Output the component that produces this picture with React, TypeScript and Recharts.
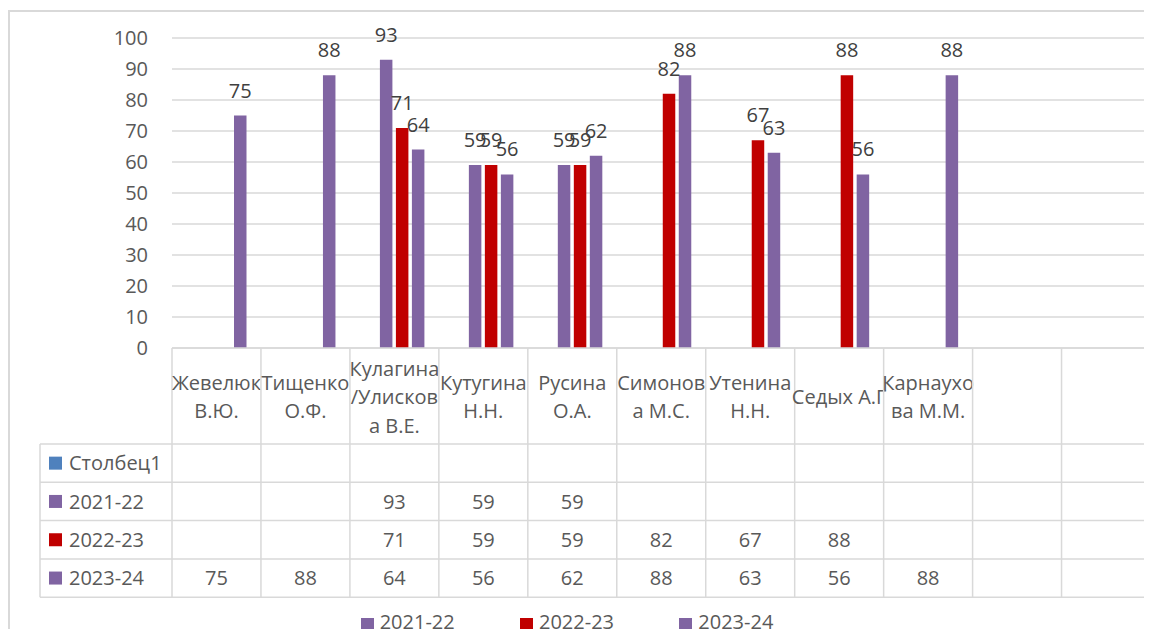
import React from "react";
import {
  BarChart,
  Bar,
  XAxis,
  YAxis,
  CartesianGrid,
  LabelList,
} from "recharts";

// categories as shown in the table header (\n = wrap in the cell)
const categories = [
  "Жевелюк\nВ.Ю.",
  "Тищенко\nО.Ф.",
  "Кулагина\n/Улисков\nа В.Е.",
  "Кутугина\nН.Н.",
  "Русина\nО.А.",
  "Симонов\nа М.С.",
  "Утенина\nН.Н.",
  "Седых А.Г",
  "Карнаухо\nва М.М.",
  "",
  "",
];

const col1: (number | null)[] = [null, null, null, null, null, null, null, null, null, null, null];
const y2122: (number | null)[] = [null, null, 93, 59, 59, null, null, null, null, null, null];
const y2223: (number | null)[] = [null, null, 71, 59, 59, 82, 67, 88, null, null, null];
const y2324: (number | null)[] = [75, 88, 64, 56, 62, 88, 63, 56, 88, null, null];

const yTicks = [0, 10, 20, 30, 40, 50, 60, 70, 80, 90, 100];

const series = [
  { key: "c1", name: "Столбец1", color: "#4F81BD", values: col1 },
  { key: "y2122", name: "2021-22", color: "#8064A2", values: y2122 },
  { key: "y2223", name: "2022-23", color: "#C00000", values: y2223 },
  { key: "y2324", name: "2023-24", color: "#8064A2", values: y2324 },
];

const data = categories.map((name, i) => ({
  name,
  c1: col1[i],
  y2122: y2122[i],
  y2223: y2223[i],
  y2324: y2324[i],
}));

const FONT = "'Open Sans', 'Noto Sans', sans-serif";
const TEXT = "#595959";
const LINE = "#D9D9D9";

const CHART_W = 1170;
const CHART_H = 640;
const PLOT_LEFT = 164;
const PLOT_RIGHT = 1142.5;
const PLOT_TOP = 30;
const PLOT_BOTTOM = 340;
const BAND = (PLOT_RIGHT - PLOT_LEFT) / categories.length;
const HEADER_BOTTOM = 436;
const ROW_H = 38.3;
const TABLE_LEFT = 32;
const TABLE_BOTTOM = HEADER_BOTTOM + ROW_H * series.length;

const YTick = (props: any) => {
  const { y, payload } = props;
  return (
    <text
      x={PLOT_LEFT - 24}
      y={y}
      dy="0.36em"
      textAnchor="end"
      fontSize={20}
      fill={TEXT}
      fontFamily={FONT}
    >
      {payload.value}
    </text>
  );
};

const TableTick = (props: any) => {
  const { x, index, payload } = props;
  const left = x - BAND / 2;
  const lines = String(payload.value).split("\n").filter((s) => s.length > 0);
  const midY = (PLOT_BOTTOM + HEADER_BOTTOM) / 2 + 1;
  const lh = 28.5;
  const firstY = midY - ((lines.length - 1) * lh) / 2;
  const isLast = index === categories.length - 1;

  return (
    <g>
      {index === 0 && (
        <g>
          {series.map((s, r) => (
            <line
              key={"h" + r}
              x1={TABLE_LEFT}
              x2={PLOT_RIGHT}
              y1={HEADER_BOTTOM + ROW_H * r}
              y2={HEADER_BOTTOM + ROW_H * r}
              stroke={LINE}
              strokeWidth={1.5}
            />
          ))}
          <line
            x1={TABLE_LEFT}
            x2={PLOT_RIGHT}
            y1={TABLE_BOTTOM}
            y2={TABLE_BOTTOM}
            stroke={LINE}
            strokeWidth={1.5}
          />
          <line
            x1={TABLE_LEFT}
            x2={TABLE_LEFT}
            y1={HEADER_BOTTOM}
            y2={TABLE_BOTTOM}
            stroke={LINE}
            strokeWidth={1.5}
          />
          {series.map((s, r) => {
            const cy = HEADER_BOTTOM + ROW_H * r + ROW_H / 2;
            return (
              <g key={"n" + r}>
                <rect x={TABLE_LEFT + 9} y={cy - 6.5} width={13} height={13} fill={s.color} />
                <text
                  x={TABLE_LEFT + 29}
                  y={cy}
                  dy="0.36em"
                  fontSize={20}
                  fill={TEXT}
                  fontFamily={FONT}
                >
                  {s.name}
                </text>
              </g>
            );
          })}
        </g>
      )}
      <line x1={left} x2={left} y1={PLOT_BOTTOM} y2={TABLE_BOTTOM} stroke={LINE} strokeWidth={1.5} />
      {isLast && (
        <line
          x1={left + BAND}
          x2={left + BAND}
          y1={PLOT_BOTTOM}
          y2={TABLE_BOTTOM}
          stroke={LINE}
          strokeWidth={1.5}
        />
      )}
      {lines.map((ln, k) => (
        <text
          key={"l" + k}
          x={x}
          y={firstY + k * lh}
          dy="0.36em"
          textAnchor="middle"
          fontSize={20}
          fill={TEXT}
          fontFamily={FONT}
        >
          {ln}
        </text>
      ))}
      {series.map((s, r) => {
        const v = s.values[index];
        if (v == null) return null;
        return (
          <text
            key={"v" + r}
            x={x}
            y={HEADER_BOTTOM + ROW_H * r + ROW_H / 2}
            dy="0.36em"
            textAnchor="middle"
            fontSize={20}
            fill={TEXT}
            fontFamily={FONT}
          >
            {v}
          </text>
        );
      })}
    </g>
  );
};

const labelStyle = { fontSize: 20, fill: "#404040", fontFamily: FONT };

export default function App() {
  const legendItems = series.slice(1);
  return (
    <div style={{ position: "relative", width: 1144, height: 621, overflow: "hidden", fontFamily: FONT }}>
      <style>{`html,body{overflow:hidden}`}</style>
      <div
        style={{
          position: "absolute",
          left: 0,
          top: 2,
          width: 1300,
          height: 700,
          borderLeft: `2px solid ${LINE}`,
          borderTop: `2px solid ${LINE}`,
        }}
      />
      <div style={{ position: "absolute", left: 0, top: 0 }}>
        <BarChart
          width={CHART_W}
          height={CHART_H}
          data={data}
          margin={{ top: PLOT_TOP, right: CHART_W - PLOT_RIGHT, left: 0, bottom: 0 }}
          barSize={12.5}
          barGap={3.5}
          style={{ fontFamily: FONT }}
        >
          <CartesianGrid vertical={false} stroke={LINE} strokeWidth={1.5} />
          <XAxis
            dataKey="name"
            interval={0}
            height={CHART_H - PLOT_BOTTOM}
            axisLine={{ stroke: LINE, strokeWidth: 1.5 }}
            tickLine={false}
            tick={<TableTick />}
          />
          <YAxis
            domain={[0, 100]}
            ticks={yTicks}
            width={PLOT_LEFT}
            axisLine={false}
            tickLine={false}
            tick={<YTick />}
          />
          {series.map((s) => (
            <Bar
              key={s.key}
              dataKey={s.key}
              name={s.name}
              fill={s.color}
              isAnimationActive={false}
              legendType={s.key === "c1" ? "none" : "square"}
            >
              {s.key !== "c1" && (
                <LabelList dataKey={s.key} position="top" offset={18} style={labelStyle} />
              )}
            </Bar>
          ))}
        </BarChart>
      </div>
      <div style={{ position: "absolute", left: 352.7, top: 603.5, display: "flex" }}>
        {legendItems.map((s) => (
          <div
            key={s.key}
            style={{ display: "flex", alignItems: "flex-start", width: 159.3, lineHeight: "20px" }}
          >
            <span
              style={{
                display: "inline-block",
                width: 13,
                height: 13,
                background: s.color,
                marginTop: 6.5,
                marginRight: 6,
              }}
            />
            <span style={{ fontSize: 20, color: TEXT }}>{s.name}</span>
          </div>
        ))}
      </div>
    </div>
  );
}
